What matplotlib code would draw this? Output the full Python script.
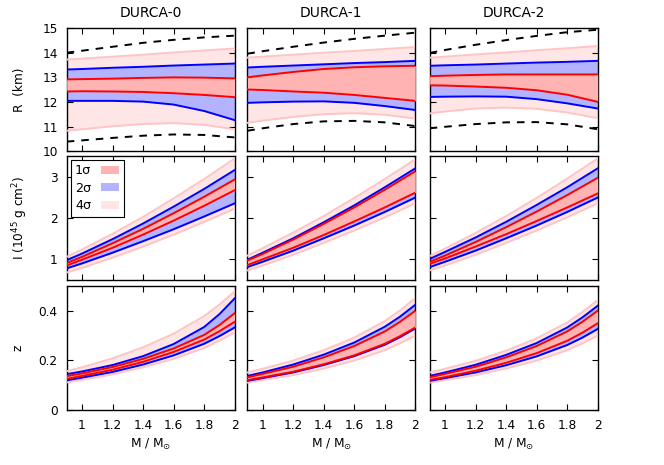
import matplotlib
matplotlib.use("Agg")
import matplotlib.pyplot as plt
from matplotlib.patches import Patch

plt.rcParams['font.family'] = ['DejaVu Sans']
plt.rcParams['mathtext.fontset'] = 'dejavusans'

# ---------------- data ----------------
mass = [0.9, 1.0, 1.2, 1.4, 1.6, 1.8, 2.0]
mass_z = [0.9, 1.0, 1.2, 1.4, 1.6, 1.8, 1.9, 2.0]
models = ["DURCA-0", "DURCA-1", "DURCA-2"]

# Radius R (km)
R_dash_up = [
    [14.00, 14.08, 14.24, 14.40, 14.52, 14.62, 14.69],
    [13.96, 14.06, 14.24, 14.41, 14.56, 14.69, 14.81],
    [13.99, 14.11, 14.32, 14.51, 14.68, 14.83, 14.93],
]
R_dash_lo = [
    [10.40, 10.45, 10.55, 10.64, 10.69, 10.67, 10.57],
    [10.84, 10.94, 11.11, 11.22, 11.24, 11.18, 11.03],
    [10.94, 11.00, 11.11, 11.18, 11.19, 11.10, 10.90],
]
R_4s_up = [
    [13.72, 13.76, 13.84, 13.92, 14.01, 14.09, 14.17],
    [13.80, 13.84, 13.92, 14.00, 14.07, 14.15, 14.23],
    [13.80, 13.84, 13.93, 14.01, 14.10, 14.18, 14.27],
]
R_4s_lo = [
    [10.84, 10.90, 11.02, 11.11, 11.15, 11.08, 10.90],
    [11.16, 11.25, 11.40, 11.51, 11.55, 11.49, 11.33],
    [11.54, 11.62, 11.74, 11.78, 11.73, 11.58, 11.35],
]
R_2s_up = [
    [13.32, 13.34, 13.39, 13.43, 13.48, 13.52, 13.56],
    [13.40, 13.43, 13.48, 13.53, 13.58, 13.62, 13.67],
    [13.47, 13.49, 13.52, 13.56, 13.60, 13.63, 13.67],
]
R_2s_lo = [
    [12.05, 12.05, 12.05, 12.02, 11.90, 11.64, 11.27],
    [11.97, 11.99, 12.02, 12.03, 11.97, 11.84, 11.68],
    [12.21, 12.22, 12.23, 12.22, 12.12, 11.95, 11.74],
]
R_1s_up = [
    [12.92, 12.93, 12.95, 12.98, 13.00, 12.99, 12.96],
    [13.00, 13.08, 13.22, 13.34, 13.41, 13.45, 13.47],
    [13.05, 13.07, 13.10, 13.12, 13.12, 13.12, 13.12],
]
R_1s_lo = [
    [12.43, 12.44, 12.43, 12.41, 12.36, 12.29, 12.20],
    [12.51, 12.49, 12.43, 12.38, 12.29, 12.17, 12.05],
    [12.68, 12.67, 12.63, 12.58, 12.48, 12.30, 12.01],
]

# Moment of inertia I (1e45 g cm^2)
I_4s_up = [
    [1.05, 1.23, 1.61, 2.02, 2.47, 2.94, 3.44],
    [1.08, 1.26, 1.64, 2.04, 2.48, 2.94, 3.42],
    [1.07, 1.25, 1.63, 2.04, 2.48, 2.95, 3.44],
]
I_4s_lo = [
    [0.67, 0.78, 1.03, 1.30, 1.59, 1.90, 2.22],
    [0.72, 0.84, 1.10, 1.39, 1.69, 2.01, 2.35],
    [0.72, 0.84, 1.10, 1.39, 1.69, 2.01, 2.35],
]
I_2s_up = [
    [0.97, 1.13, 1.48, 1.86, 2.27, 2.70, 3.16],
    [0.98, 1.15, 1.50, 1.89, 2.30, 2.74, 3.20],
    [1.00, 1.17, 1.52, 1.90, 2.31, 2.74, 3.20],
]
I_2s_lo = [
    [0.77, 0.89, 1.15, 1.43, 1.72, 2.03, 2.35],
    [0.80, 0.93, 1.20, 1.50, 1.81, 2.14, 2.49],
    [0.80, 0.93, 1.20, 1.50, 1.81, 2.14, 2.49],
]
I_1s_up = [
    [0.90, 1.05, 1.38, 1.73, 2.11, 2.51, 2.93],
    [0.96, 1.12, 1.47, 1.85, 2.25, 2.68, 3.13],
    [0.93, 1.08, 1.41, 1.77, 2.15, 2.55, 2.97],
]
I_1s_lo = [
    [0.84, 0.98, 1.27, 1.59, 1.93, 2.29, 2.67],
    [0.85, 0.99, 1.27, 1.58, 1.91, 2.25, 2.61],
    [0.88, 1.01, 1.30, 1.60, 1.92, 2.25, 2.59],
]

# Redshift z (on mass_z grid)
z_4s_up = [
    [0.155, 0.171, 0.207, 0.252, 0.307, 0.378, 0.425, 0.478],
    [0.150, 0.165, 0.198, 0.240, 0.291, 0.358, 0.401, 0.451],
    [0.150, 0.165, 0.197, 0.238, 0.288, 0.352, 0.395, 0.443],
]
z_4s_lo = [
    [0.110, 0.120, 0.142, 0.171, 0.205, 0.249, 0.279, 0.312],
    [0.109, 0.119, 0.139, 0.166, 0.198, 0.240, 0.268, 0.299],
    [0.109, 0.119, 0.139, 0.166, 0.198, 0.240, 0.268, 0.299],
]
z_2s_up = [
    [0.143, 0.154, 0.180, 0.216, 0.265, 0.334, 0.386, 0.450],
    [0.136, 0.150, 0.182, 0.222, 0.271, 0.335, 0.376, 0.424],
    [0.136, 0.150, 0.181, 0.221, 0.269, 0.332, 0.373, 0.420],
]
z_2s_lo = [
    [0.118, 0.129, 0.152, 0.182, 0.219, 0.266, 0.297, 0.332],
    [0.116, 0.127, 0.150, 0.180, 0.216, 0.262, 0.293, 0.328],
    [0.116, 0.127, 0.150, 0.179, 0.215, 0.261, 0.291, 0.326],
]
z_1s_up = [
    [0.135, 0.146, 0.172, 0.205, 0.247, 0.302, 0.342, 0.390],
    [0.130, 0.144, 0.173, 0.211, 0.257, 0.316, 0.355, 0.400],
    [0.130, 0.144, 0.173, 0.211, 0.257, 0.316, 0.355, 0.400],
]
z_1s_lo = [
    [0.124, 0.136, 0.161, 0.193, 0.233, 0.283, 0.317, 0.355],
    [0.119, 0.130, 0.153, 0.183, 0.219, 0.266, 0.297, 0.332],
    [0.120, 0.131, 0.157, 0.189, 0.228, 0.278, 0.311, 0.349],
]

x_ticks = [1, 1.2, 1.4, 1.6, 1.8, 2]
x_ticklabels = ["1", "1.2", "1.4", "1.6", "1.8", "2"]
R_ticks = [10, 11, 12, 13, 14, 15]
I_ticks = [1, 2, 3]
z_ticks = [0, 0.2, 0.4]
z_ticklabels = ["0", "0.2", "0.4"]
legend_labels = ["1σ", "2σ", "4σ"]

# ---------------- style ----------------
c1_fill, c1_line = "#ffb3b3", "#ff0000"
c2_fill, c2_line = "#b3b3ff", "#0000ff"
c4_fill, c4_line = "#ffe6e6", "#ffc4c4"
lw = 1.4
fs = 8.7

W, H = 664, 465
fig = plt.figure(figsize=(W / 100, H / 100), dpi=100)

col_x = [66.7, 247.3, 429.7]
col_w = 168.0
row_top = [28.0, 156.0, 286.0]
row_h = 123.5


def add_bands(ax, xs, up4, lo4, up2, lo2, up1, lo1):
    ax.fill_between(xs, lo4, up4, color=c4_fill, lw=0, zorder=1)
    ax.fill_between(xs, lo2, up2, color=c2_fill, lw=0, zorder=2)
    ax.fill_between(xs, lo1, up1, color=c1_fill, lw=0, zorder=3)
    for arr in (up4, lo4):
        ax.plot(xs, arr, color=c4_line, lw=lw, zorder=4)
    for arr in (up2, lo2):
        ax.plot(xs, arr, color=c2_line, lw=lw, zorder=5)
    for arr in (up1, lo1):
        ax.plot(xs, arr, color=c1_line, lw=lw, zorder=6)


axes = [[None] * 3 for _ in range(3)]
for r in range(3):
    for c in range(3):
        left = col_x[c] / W
        bottom = 1 - (row_top[r] + row_h) / H
        ax = fig.add_axes([left, bottom, col_w / W, row_h / H])
        axes[r][c] = ax
        ax.set_xlim(0.9, 2.0)
        ax.set_xticks(x_ticks)
        ax.tick_params(direction="in", top=True, right=True, length=4.5,
                       width=0.8, labelsize=fs, pad=6.5)
        for s in ax.spines.values():
            s.set_linewidth(1.0)
        if r == 2:
            ax.set_xticklabels(x_ticklabels)
        else:
            ax.set_xticklabels([])

for c in range(3):
    ax = axes[0][c]
    add_bands(ax, mass, R_4s_up[c], R_4s_lo[c], R_2s_up[c], R_2s_lo[c], R_1s_up[c], R_1s_lo[c])
    ax.plot(mass, R_dash_up[c], color="black", lw=lw, dashes=(3.9, 3.6), zorder=7)
    ax.plot(mass, R_dash_lo[c], color="black", lw=lw, dashes=(3.9, 3.6), zorder=7)
    ax.set_ylim(10, 15)
    ax.set_yticks(R_ticks)

    ax = axes[1][c]
    add_bands(ax, mass, I_4s_up[c], I_4s_lo[c], I_2s_up[c], I_2s_lo[c], I_1s_up[c], I_1s_lo[c])
    ax.set_ylim(0.5, 3.5)
    ax.set_yticks(I_ticks)

    ax = axes[2][c]
    add_bands(ax, mass_z, z_4s_up[c], z_4s_lo[c], z_2s_up[c], z_2s_lo[c], z_1s_up[c], z_1s_lo[c])
    ax.set_ylim(0, 0.5)
    ax.set_yticks(z_ticks)

    for r in range(3):
        if c != 0:
            axes[r][c].set_yticklabels([])
    if c == 0:
        axes[2][c].set_yticklabels(z_ticklabels)

    # column title and x label
    xc = (col_x[c] + col_w / 2) / W
    fig.text(xc, 1 - 13 / H, models[c], ha="center", va="center", fontsize=10)
    fig.text(xc, 1 - 444 / H, r"M / M$_{\odot}$", ha="center", va="center", fontsize=fs)

# y labels
fig.text(20 / W, 1 - (row_top[0] + row_h / 2) / H, "R  (km)", rotation=90,
         ha="center", va="center", fontsize=fs)
fig.text(20 / W, 1 - (row_top[1] + row_h / 2) / H, r"I (10$^{45}$ g cm$^{2}$)", rotation=90,
         ha="center", va="center", fontsize=fs)
fig.text(18 / W, 1 - (row_top[2] + row_h / 2) / H, "z", rotation=90,
         ha="center", va="center", fontsize=fs)

# legend
handles = [Patch(facecolor=c1_fill, edgecolor="none"),
           Patch(facecolor=c2_fill, edgecolor="none"),
           Patch(facecolor=c4_fill, edgecolor="none")]
leg = axes[1][0].legend(handles, legend_labels, loc="upper left", markerfirst=False,
                        fontsize=fs + 0.5, frameon=True, fancybox=False, framealpha=1,
                        edgecolor="black", handlelength=1.4, handleheight=0.6,
                        borderaxespad=0.3, labelspacing=0.35, handletextpad=0.8,
                        borderpad=0.35)
leg.get_frame().set_linewidth(0.8)
leg.set_zorder(10)

fig.savefig("out.png", dpi=100)
